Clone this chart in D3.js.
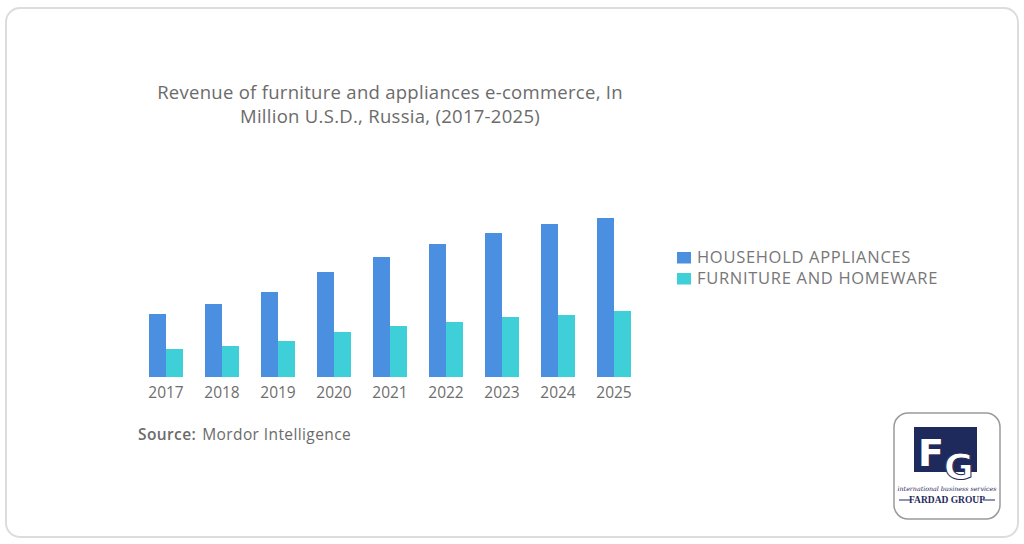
<!DOCTYPE html>
<html><head><meta charset="utf-8">
<script src="https://cdn.jsdelivr.net/npm/d3@7"></script>
<style>html,body{margin:0;padding:0;background:#fff;}svg{display:block;}</style>
</head><body>
<svg id="c" width="1024" height="544"></svg>
<script>
const years = ["2017","2018","2019","2020","2021","2022","2023","2024","2025"];
const household = [63,73,85,105,120,133,144,153,159];
const furniture = [28,31,36,45,51,55,60,62,66];
const seriesNames = ["HOUSEHOLD APPLIANCES","FURNITURE AND HOMEWARE"];
const seriesColors = ["#4a8fe0","#3ecfd8"];
const titleLines = ["Revenue of furniture and appliances e-commerce, In","Million U.S.D., Russia, (2017-2025)"];

const svg = d3.select("#c");
const font = "'Open Sans', Lato, sans-serif";

// card
svg.append("rect").attr("x",6).attr("y",8).attr("width",1012).attr("height",529)
  .attr("rx",14).attr("fill","#fff").attr("stroke","#dcdcdc").attr("stroke-width",2);

// title
svg.append("text").attr("x",390).attr("y",98.5).attr("text-anchor","middle")
  .attr("font-family",font).attr("font-size",18.5).attr("letter-spacing",0.28).attr("fill","#6b6b6b")
  .selectAll("tspan").data(titleLines).join("tspan")
  .attr("x",390).attr("dy",(d,i)=>i?24:0).text(d=>d);

// scales
const baseY = 377;
const x0 = d3.scaleBand().domain(years).range([138,642]).paddingInner(22/56).paddingOuter(11/56);
const x1 = d3.scaleBand().domain([0,1]).range([0,x0.bandwidth()]);
const y = d3.scaleLinear().domain([0,160]).range([baseY,baseY-160]);

const data = years.map((yr,i)=>({yr, vals:[household[i],furniture[i]]}));
const g = svg.append("g");
const grp = g.selectAll("g").data(data).join("g").attr("transform",d=>`translate(${x0(d.yr)},0)`);
grp.selectAll("rect").data(d=>d.vals).join("rect")
  .attr("x",(d,i)=>x1(i)).attr("width",x1.bandwidth())
  .attr("y",d=>y(d)).attr("height",d=>baseY-y(d))
  .attr("fill",(d,i)=>seriesColors[i]);

// x axis
const ax = svg.append("g").attr("transform",`translate(0,${baseY})`)
  .call(d3.axisBottom(x0).tickSize(0).tickPadding(8));
ax.select(".domain").remove();
ax.selectAll("text").attr("font-family",font).attr("font-size",15.5).attr("fill","#6e6e6e").attr("dy","0.85em");

// legend
const lg = svg.append("g").attr("transform","translate(677,252)");
const li = lg.selectAll("g").data(seriesNames).join("g").attr("transform",(d,i)=>`translate(0,${i*21})`);
li.append("rect").attr("width",14).attr("height",11.5).attr("fill",(d,i)=>seriesColors[i]);
li.append("text").attr("x",20).attr("y",11).attr("font-family",font).attr("font-size",16.5)
  .attr("letter-spacing",0.7).attr("fill","#777").text(d=>d);

// source
const src = svg.append("text").attr("x",138).attr("y",440).attr("font-family",font).attr("font-size",15.5)
  .attr("letter-spacing",0.4).attr("fill","#6b6b6b");
src.append("tspan").attr("font-weight","600").text("Source:");
src.append("tspan").attr("dx",6).text("Mordor Intelligence");

// logo
const lo = svg.append("g");
lo.append("rect").attr("x",894).attr("y",413).attr("width",106).attr("height",106).attr("rx",14)
  .attr("fill","#fff").attr("stroke","#9a9a9a").attr("stroke-width",1.5);
lo.append("rect").attr("x",914).attr("y",427).attr("width",63).attr("height",45).attr("fill","#1f2a5c");
lo.append("text").attr("x",918).attr("y",466).attr("font-family","'DejaVu Sans',sans-serif").attr("font-weight","bold")
  .attr("font-size",38).attr("fill","#fff").text("F");
lo.append("text").attr("x",944).attr("y",479).attr("font-family","'DejaVu Sans',sans-serif").attr("font-weight","bold")
  .attr("font-size",36).attr("fill","#fff").attr("stroke","#1f2a5c").attr("stroke-width",1).text("G");
lo.append("text").attr("x",947).attr("y",491).attr("text-anchor","middle").attr("font-family","'DejaVu Serif',serif")
  .attr("font-style","italic").attr("font-size",6.3).attr("fill","#1f2a5c").text("international business services");
lo.append("line").attr("x1",899).attr("x2",911).attr("y1",500).attr("y2",500).attr("stroke","#1f2a5c");
lo.append("line").attr("x1",983).attr("x2",995).attr("y1",500).attr("y2",500).attr("stroke","#1f2a5c");
lo.append("text").attr("x",947).attr("y",503).attr("text-anchor","middle").attr("font-family","'Liberation Serif',serif")
  .attr("font-weight","bold").attr("font-size",9.5).attr("fill","#1f2a5c").text("FARDAD GROUP");
</script>
</body></html>
